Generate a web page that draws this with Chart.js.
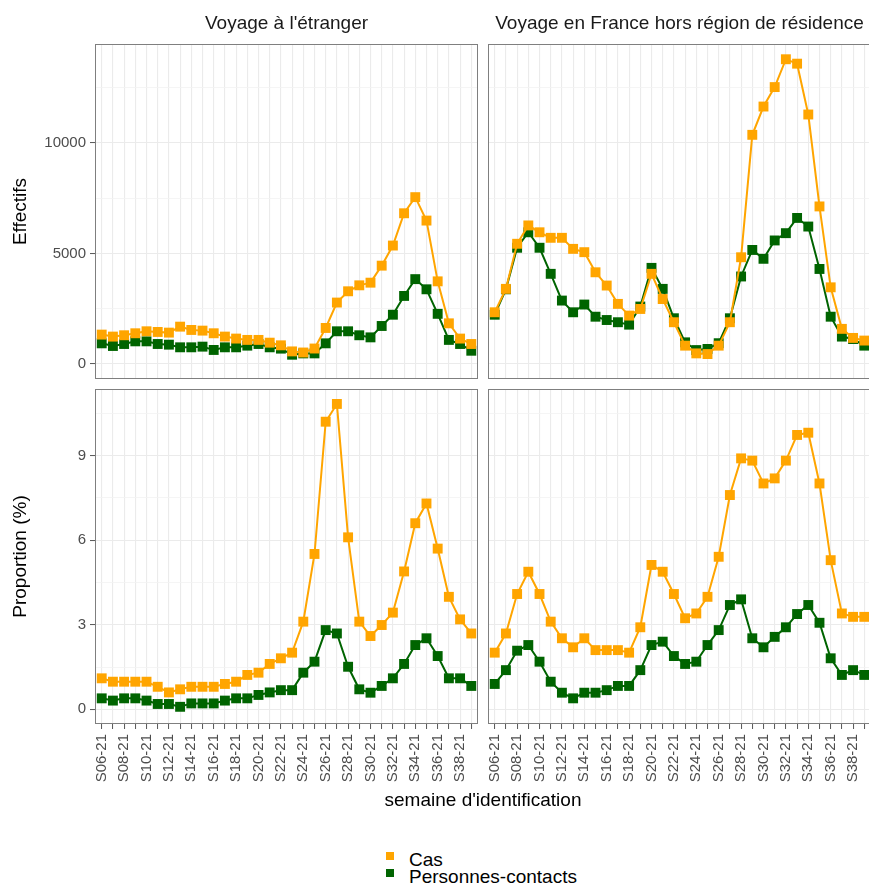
<!DOCTYPE html>
<html>
<head>
<meta charset="utf-8">
<script src="https://cdn.jsdelivr.net/npm/chart.js@4/dist/chart.umd.min.js"></script>
<style>
  html, body { margin: 0; padding: 0; background: #fff; overflow: hidden; }
  #page { position: relative; width: 869px; height: 885px; overflow: hidden; font-family: 'Liberation Sans', Arial, sans-serif; }
  canvas { position: absolute; }
  .xtitle { position: absolute; left: 283px; width: 400px; top: 790px; text-align: center; font-size: 19px; line-height: 19px; color: #000; }
  .legend { position: absolute; left: 386px; top: 851px; font-size: 19px; color: #000; }
  .legend div { position: relative; height: 17px; line-height: 17px; padding-left: 23px; }
  .legend span { position: absolute; left: 0; top: 1px; width: 8px; height: 8px; }
</style>
</head>
<body>
<div id="page">
  <canvas id="tl" width="480" height="380" style="left:0;top:0"></canvas>
  <canvas id="tr" width="400" height="380" style="left:480px;top:0"></canvas>
  <canvas id="bl" width="480" height="420" style="left:0;top:380px"></canvas>
  <canvas id="br" width="400" height="420" style="left:480px;top:380px"></canvas>
  <div class="xtitle">semaine d'identification</div>
  <div class="legend">
    <div><span style="background:#FFA500"></span>Cas</div>
    <div><span style="background:#006400"></span>Personnes-contacts</div>
  </div>
</div>
<script>
const weeks = ['S06-21','S07-21','S08-21','S09-21','S10-21','S11-21','S12-21','S13-21','S14-21','S15-21',
  'S16-21','S17-21','S18-21','S19-21','S20-21','S21-21','S22-21','S23-21','S24-21','S25-21',
  'S26-21','S27-21','S28-21','S29-21','S30-21','S31-21','S32-21','S33-21','S34-21','S35-21',
  'S36-21','S37-21','S38-21','S39-21'];

// Effectifs
const etrangerCas = [1330, 1240, 1300, 1390, 1480, 1450, 1420, 1690, 1540, 1510, 1390, 1240, 1150, 1090, 1090, 965, 845, 570, 520, 700,
  1630, 2780, 3290, 3560, 3680, 4450, 5360, 6820, 7550, 6490, 3740, 1840, 1150, 905];
const etrangerContacts = [935, 815, 905, 1025, 1025, 905, 875, 755, 755, 785, 635, 755, 755, 830, 905, 755, 695, 420, 480, 480,
  935, 1480, 1480, 1300, 1205, 1720, 2230, 3080, 3840, 3380, 2270, 1090, 905, 600];
const franceCas = [2340, 3400, 5440, 6270, 5960, 5710, 5710, 5210, 5060, 4150, 3550, 2720, 2190, 2490, 4080, 2940, 1890, 830, 480, 450,
  830, 1890, 4830, 10370, 11650, 12530, 13790, 13590, 11290, 7130, 3470, 1590, 1180, 1060];
const franceContacts = [2230, 3380, 5260, 5960, 5260, 4080, 2870, 2340, 2690, 2140, 1990, 1890, 1780, 2600, 4350, 3400, 2070, 980, 630, 680,
  940, 2070, 3960, 5160, 4760, 5590, 5920, 6610, 6220, 4300, 2140, 1240, 1130, 830];

// Proportion (%)
const propEtrangerCas = [1.10, 0.98, 0.98, 0.98, 0.98, 0.80, 0.60, 0.71, 0.80, 0.80, 0.80, 0.90, 0.98, 1.22, 1.30, 1.61, 1.81, 2.01, 3.11, 5.51,
  10.20, 10.83, 6.10, 3.11, 2.60, 2.99, 3.43, 4.89, 6.60, 7.30, 5.70, 3.99, 3.19, 2.69];
const propEtrangerContacts = [0.39, 0.31, 0.39, 0.39, 0.31, 0.19, 0.19, 0.09, 0.21, 0.21, 0.21, 0.31, 0.39, 0.39, 0.51, 0.60, 0.68, 0.68, 1.30, 1.69,
  2.81, 2.69, 1.51, 0.71, 0.59, 0.83, 1.10, 1.61, 2.28, 2.52, 1.89, 1.10, 1.10, 0.83];
const propFranceCas = [2.01, 2.69, 4.09, 4.88, 4.09, 3.11, 2.52, 2.20, 2.52, 2.10, 2.10, 2.10, 2.01, 2.91, 5.12, 4.88, 4.09, 3.23, 3.40, 3.99,
  5.41, 7.60, 8.90, 8.82, 8.01, 8.19, 8.82, 9.73, 9.81, 8.01, 5.29, 3.40, 3.28, 3.28];
const propFranceContacts = [0.90, 1.39, 2.08, 2.28, 1.69, 0.98, 0.59, 0.39, 0.59, 0.59, 0.68, 0.83, 0.83, 1.39, 2.28, 2.40, 1.89, 1.61, 1.69, 2.28,
  2.81, 3.70, 3.90, 2.52, 2.20, 2.57, 2.91, 3.38, 3.70, 3.07, 1.81, 1.22, 1.39, 1.22];

// y grid positions (major ones get a label), ggplot style
const countTicks = [0, 2500, 5000, 7500, 10000, 12500];
const countMajor = [0, 5000, 10000];
const propTicks = [0, 1.5, 3, 4.5, 6, 7.5, 9, 10.5];
const propMajor = [0, 3, 6, 9];

const CAS = '#FFA500';
const CONTACTS = '#006400';
const FONT = "'Liberation Sans', Arial, sans-serif";

Chart.defaults.font.family = FONT;
Chart.defaults.animation = false;

// ggplot-like panel border
const panelBorder = {
  id: 'panelBorder',
  afterDraw(chart) {
    const { ctx, chartArea: a } = chart;
    ctx.save();
    ctx.strokeStyle = '#7f7f7f';
    ctx.lineWidth = 1;
    ctx.strokeRect(Math.round(a.left) + 0.5, Math.round(a.top) + 0.5, Math.round(a.right - a.left) - 1, Math.round(a.bottom - a.top) - 1);
    ctx.restore();
  }
};

function series(label, values, color) {
  return {
    label: label,
    data: values.map((v, i) => ({ x: i, y: v })),
    borderColor: color,
    backgroundColor: color,
    borderWidth: 2,
    pointStyle: 'rect',
    pointRadius: 7,
    pointBorderWidth: 0,
    pointHoverRadius: 7,
    tension: 0
  };
}

function makePanel(id, cas, contacts, o) {
  const isMajor = v => o.majors.includes(v);
  new Chart(document.getElementById(id), {
    type: 'line',
    data: {
      datasets: [
        series('Cas', cas, CAS),
        series('Personnes-contacts', contacts, CONTACTS)
      ]
    },
    plugins: [panelBorder],
    options: {
      responsive: false,
      layout: { padding: o.padding, autoPadding: false },
      plugins: {
        legend: { display: false },
        tooltip: { enabled: false },
        title: {
          display: !!o.strip,
          text: o.strip || '',
          fullSize: false,
          color: '#1A1A1A',
          font: { size: 19, weight: 'normal' },
          padding: { top: 12, bottom: 9.2 }
        }
      },
      scales: {
        x: {
          type: 'linear',
          min: -0.6,
          max: 33.6,
          afterBuildTicks: s => { s.ticks = weeks.map((w, i) => ({ value: i })); },
          afterFit: s => {
            s.height = o.showX ? 76 : 0;
            s.paddingLeft = 0; s.paddingRight = 0;
          },
          grid: {
            color: '#EBEBEB',
            lineWidth: 1.1,
            drawTicks: o.showX,
            tickLength: 5,
            tickColor: '#555',
            tickWidth: 1
          },
          border: { display: false },
          ticks: {
            display: o.showX,
            autoSkip: false,
            minRotation: 90,
            maxRotation: 90,
            padding: 5,
            color: '#4D4D4D',
            font: { size: 15 },
            callback: v => (v % 2 === 0 ? weeks[v] : '')
          }
        },
        y: {
          type: 'linear',
          min: o.min,
          max: o.max,
          afterBuildTicks: s => { s.ticks = o.ticks.map(v => ({ value: v })); },
          afterFit: s => {
            s.width = o.showY ? 95 : 0;
            s.paddingTop = 0; s.paddingBottom = 0;
          },
          title: {
            display: o.showY,
            text: o.yTitle,
            color: '#000',
            font: { size: 19 },
            padding: { top: 9, bottom: 0 }
          },
          grid: {
            color: c => (isMajor(c.tick.value) ? '#EBEBEB' : '#F3F3F3'),
            lineWidth: c => (isMajor(c.tick.value) ? 1.1 : 0.8),
            drawTicks: o.showY,
            tickLength: 5,
            tickColor: c => (isMajor(c.tick.value) ? '#555' : 'rgba(0,0,0,0)'),
            tickWidth: 1
          },
          border: { display: false },
          ticks: {
            display: o.showY,
            autoSkip: false,
            padding: 4,
            color: '#4D4D4D',
            font: { size: 15 },
            callback: v => (isMajor(v) ? String(v) : '')
          }
        }
      }
    }
  });
}

const countRange = { min: -679, max: 14480, ticks: countTicks, majors: countMajor, yTitle: 'Effectifs' };
const propRange = { min: -0.52, max: 11.36, ticks: propTicks, majors: propMajor, yTitle: 'Proportion (%)' };

makePanel('tl', etrangerCas, etrangerContacts, Object.assign({}, countRange, {
  strip: "Voyage à l'étranger", showX: false, showY: true,
  padding: { top: 0, right: 2, bottom: 1, left: 0 }
}));
makePanel('tr', franceCas, franceContacts, Object.assign({}, countRange, {
  strip: 'Voyage en France hors région de résidence', showX: false, showY: false,
  padding: { top: 0, right: 9, bottom: 1, left: 8 }
}));
makePanel('bl', propEtrangerCas, propEtrangerContacts, Object.assign({}, propRange, {
  showX: true, showY: true,
  padding: { top: 9, right: 2, bottom: 0, left: 0 }
}));
makePanel('br', propFranceCas, propFranceContacts, Object.assign({}, propRange, {
  showX: true, showY: false,
  padding: { top: 9, right: 9, bottom: 0, left: 8 }
}));
</script>
</body>
</html>
